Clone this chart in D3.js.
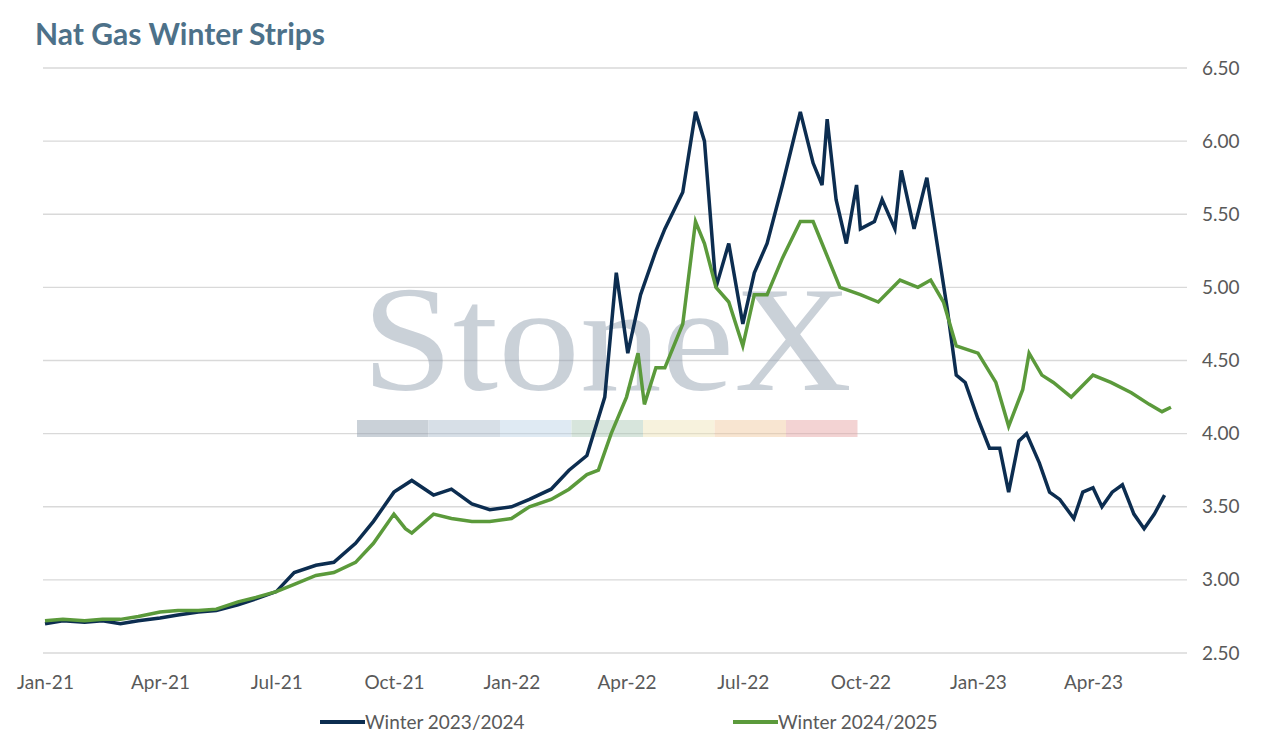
<!DOCTYPE html>
<html><head><meta charset="utf-8">
<script src="https://cdn.jsdelivr.net/npm/d3@7"></script>
<style>body{margin:0;background:#fff;font-family:Lato,sans-serif}</style>
</head><body><svg></svg>
<script>
let blueDates = ['2021-01-01','2021-01-15','2021-02-01','2021-02-15','2021-03-01','2021-03-15','2021-04-01','2021-04-15','2021-05-01','2021-05-15','2021-06-01','2021-06-15','2021-07-01','2021-07-15','2021-08-01','2021-08-15','2021-09-01','2021-09-15','2021-10-01','2021-10-15','2021-11-01','2021-11-15','2021-12-01','2021-12-15','2022-01-01','2022-01-15','2022-02-01','2022-02-15','2022-03-01','2022-03-15','2022-03-24','2022-04-02','2022-04-12','2022-04-24','2022-05-01','2022-05-15','2022-05-25','2022-06-01','2022-06-10','2022-06-20','2022-07-01','2022-07-10','2022-07-20','2022-08-01','2022-08-15','2022-08-25','2022-09-01','2022-09-05','2022-09-12','2022-09-20','2022-09-28','2022-10-01','2022-10-12','2022-10-18','2022-10-28','2022-11-02','2022-11-12','2022-11-22','2022-11-30','2022-12-08','2022-12-15','2022-12-22','2023-01-01','2023-01-10','2023-01-18','2023-01-25','2023-02-02','2023-02-08','2023-02-18','2023-02-26','2023-03-06','2023-03-17','2023-03-24','2023-04-01','2023-04-08','2023-04-16','2023-04-24','2023-05-03','2023-05-11','2023-05-19','2023-05-27']
let blueValues = [2.70,2.72,2.71,2.72,2.70,2.72,2.74,2.76,2.78,2.79,2.83,2.87,2.92,3.05,3.10,3.12,3.25,3.40,3.60,3.68,3.58,3.62,3.52,3.48,3.50,3.55,3.62,3.75,3.85,4.25,5.10,4.55,4.95,5.25,5.40,5.65,6.20,6.00,5.00,5.30,4.75,5.10,5.30,5.70,6.20,5.85,5.70,6.15,5.60,5.30,5.70,5.40,5.45,5.60,5.40,5.80,5.40,5.75,5.30,4.85,4.40,4.35,4.10,3.90,3.90,3.60,3.95,4.00,3.80,3.60,3.55,3.42,3.60,3.63,3.50,3.60,3.65,3.45,3.35,3.45,3.58]
let greenDates = ['2021-01-01','2021-01-15','2021-02-01','2021-02-15','2021-03-01','2021-03-15','2021-04-01','2021-04-15','2021-05-01','2021-05-15','2021-06-01','2021-06-15','2021-07-01','2021-07-15','2021-08-01','2021-08-15','2021-09-01','2021-09-15','2021-10-01','2021-10-10','2021-10-15','2021-11-01','2021-11-15','2021-12-01','2021-12-15','2022-01-01','2022-01-15','2022-02-01','2022-02-15','2022-03-01','2022-03-10','2022-03-20','2022-04-01','2022-04-10','2022-04-15','2022-04-24','2022-05-01','2022-05-15','2022-05-25','2022-06-01','2022-06-10','2022-06-20','2022-07-01','2022-07-10','2022-07-20','2022-08-01','2022-08-15','2022-08-25','2022-09-01','2022-09-15','2022-10-01','2022-10-15','2022-11-01','2022-11-15','2022-11-25','2022-12-05','2022-12-15','2023-01-01','2023-01-15','2023-01-25','2023-02-05','2023-02-10','2023-02-20','2023-03-01','2023-03-15','2023-04-01','2023-04-15','2023-05-01','2023-05-15','2023-05-25','2023-06-01']
let greenValues = [2.72,2.73,2.72,2.73,2.73,2.75,2.78,2.79,2.79,2.80,2.85,2.88,2.92,2.97,3.03,3.05,3.12,3.25,3.45,3.35,3.32,3.45,3.42,3.40,3.40,3.42,3.50,3.55,3.62,3.72,3.75,4.00,4.25,4.55,4.20,4.45,4.45,4.75,5.45,5.30,5.00,4.90,4.60,4.95,4.95,5.20,5.45,5.45,5.30,5.00,4.95,4.90,5.05,5.00,5.05,4.90,4.60,4.55,4.35,4.05,4.30,4.55,4.40,4.35,4.25,4.40,4.35,4.28,4.20,4.15,4.18]
let yTicks = [2.5,3,3.5,4,4.5,5,5.5,6,6.5]
let xTickDates = ['2021-01-01','2021-04-01','2021-07-01','2021-10-01','2022-01-01','2022-04-01','2022-07-01','2022-10-01','2023-01-01','2023-04-01']

let width = 1272, height = 744
let svg = d3.select('svg').attr('width', width).attr('height', height)
let parse = d3.timeParse('%Y-%m-%d')

let x = d3.scaleTime().domain([parse('2021-01-01'), parse('2023-04-01')]).range([45, 1093])
let y = d3.scaleLinear().domain([2.5, 6.5]).range([653, 68])

svg.append('text').attr('x', 35).attr('y', 45).text('Nat Gas Winter Strips')
   .attr('font-size', 30).attr('font-weight', 'bold').attr('fill', '#4d7189')

svg.append('g').selectAll('line').data(yTicks).enter().append('line')
   .attr('x1', 43).attr('x2', 1187).attr('y1', d => y(d)).attr('y2', d => y(d))
   .attr('stroke', '#d9d9d9').attr('stroke-width', 1.3)

let yAxis = d3.axisRight(y).tickValues(yTicks).tickFormat(d3.format('.2f')).tickSize(0).tickPadding(0)
let gy = svg.append('g').attr('transform', 'translate(1202,0)').call(yAxis)
gy.select('.domain').remove()
gy.selectAll('text').attr('font-size', 19).attr('fill', '#595959').attr('font-family', 'Lato')

let xAxis = d3.axisBottom(x).tickValues(xTickDates.map(parse)).tickFormat(d3.timeFormat('%b-%y')).tickSize(0).tickPadding(0)
let gx = svg.append('g').attr('transform', 'translate(0,675)').call(xAxis)
gx.select('.domain').remove()
gx.selectAll('text').attr('font-size', 19).attr('fill', '#595959').attr('font-family', 'Lato')

// watermark
let wm = svg.append('g').attr('opacity', 0.45)
wm.append('text').attr('x', 607).attr('y', 390).attr('text-anchor', 'middle')
  .attr('font-family', 'Liberation Serif').attr('font-size', 150).attr('fill', '#8c9aab')
  .attr('textLength', 490).attr('lengthAdjust', 'spacingAndGlyphs').text('StoneX')
let wmColors = ['#8c9aab','#a7b9cc','#b9d2e6','#a8c7b3','#efe4b5','#f0c79a','#e6a0a0']
wm.selectAll('rect').data(wmColors).enter().append('rect')
  .attr('x', (d, i) => 357 + i * 71.5).attr('y', 420).attr('width', 71.5).attr('height', 17).attr('fill', d => d)

let line = d3.line().x(d => x(d[0])).y(d => y(d[1]))
let blue = blueDates.map((d, i) => [parse(d), blueValues[i]])
let green = greenDates.map((d, i) => [parse(d), greenValues[i]])
svg.append('path').datum(blue).attr('d', line).attr('fill', 'none').attr('stroke', '#0c2d50').attr('stroke-width', 3.5)
svg.append('path').datum(green).attr('d', line).attr('fill', 'none').attr('stroke', '#5b9a3b').attr('stroke-width', 3.5)

let legend = [['Winter 2023/2024', '#0c2d50', 320], ['Winter 2024/2025', '#5b9a3b', 733]]
legend.forEach(l => {
  svg.append('line').attr('x1', l[2]).attr('x2', l[2] + 45).attr('y1', 722).attr('y2', 722).attr('stroke', l[1]).attr('stroke-width', 4)
  svg.append('text').attr('x', l[2] + 45).attr('y', 729).text(l[0]).attr('font-size', 19).attr('fill', '#595959')
})
</script></body></html>
